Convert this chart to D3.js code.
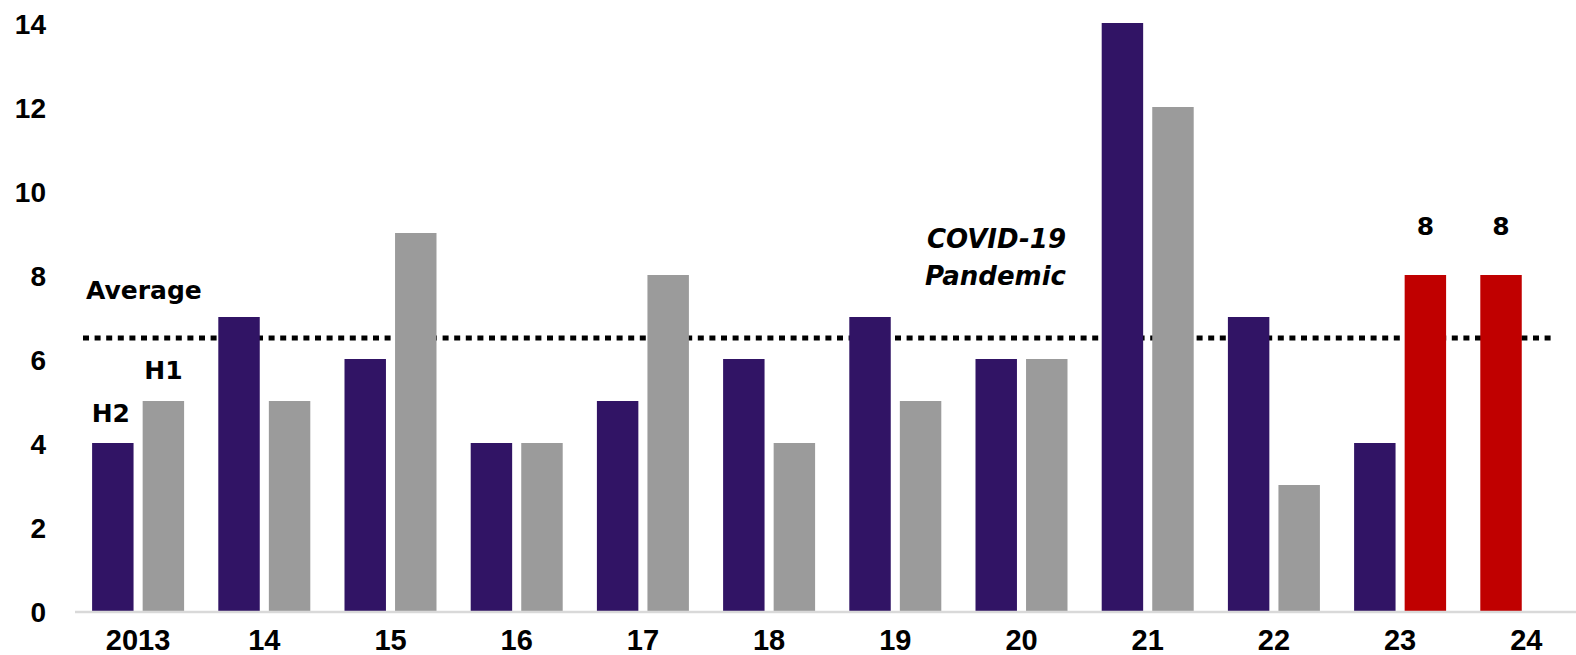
<!DOCTYPE html>
<html>
<head>
<meta charset="utf-8">
<script src="https://cdn.jsdelivr.net/npm/d3@7"></script>
<style>
  html, body { margin: 0; padding: 0; background: #fff; }
  svg { display: block; }
</style>
</head>
<body>
<svg id="chart" width="1576" height="655"></svg>
<script>
// ---- data ----
const years = ["2013", "14", "15", "16", "17", "18", "19", "20", "21", "22", "23", "24"];
const seriesNames = ["H2", "H1"];
const h2Values = [4, 7, 6, 4, 5, 6, 7, 6, 14, 7, 4, 8];
const h1Values = [5, 5, 9, 4, 8, 4, 5, 6, 12, 3, 8, null];
const highlighted = [["23", "H1"], ["24", "H2"]];
const yTicks = [0, 2, 4, 6, 8, 10, 12, 14];
const averageValue = 6.5;
const covidLabel = ["COVID-19", "Pandemic"];

// ---- styles ----
const colors = { H2: "#311465", H1: "#9b9b9b", highlight: "#c00000" };
const annFont = "'DejaVu Sans', Verdana, sans-serif";
const axisFont = "'Liberation Sans', Arial, sans-serif";

const svg = d3.select("#chart");

const x = d3.scaleBand().domain(years).range([75, 75 + 12 * 126.2])
  .paddingInner(0.271).paddingOuter(0.1355);
const xs = d3.scaleBand().domain(seriesNames).range([0, x.bandwidth()])
  .paddingInner(0.18).paddingOuter(0);
const y = d3.scaleLinear().domain([0, 14]).range([611, 23]);

const bars = [];
years.forEach((yr, i) => {
  [["H2", h2Values[i]], ["H1", h1Values[i]]].forEach(([s, v]) => {
    if (v == null) return;
    const hi = highlighted.some(h => h[0] === yr && h[1] === s);
    bars.push({ year: yr, series: s, value: v, hi });
  });
});

// average dotted line (behind bars)
svg.append("line")
  .attr("x1", 83).attr("x2", 1553)
  .attr("y1", y(averageValue)).attr("y2", y(averageValue))
  .attr("stroke", "#000").attr("stroke-width", 5)
  .attr("stroke-dasharray", "6 5.6");

// bars
svg.append("g").selectAll("rect").data(bars).join("rect")
  .attr("x", d => x(d.year) + xs(d.series))
  .attr("width", xs.bandwidth())
  .attr("y", d => y(d.value))
  .attr("height", d => y(0) - y(d.value))
  .attr("fill", d => d.hi ? colors.highlight : colors[d.series]);

// baseline
svg.append("line")
  .attr("x1", 75).attr("x2", 1576)
  .attr("y1", y(0) + 1).attr("y2", y(0) + 1)
  .attr("stroke", "#d9d9d9").attr("stroke-width", 2.5);

// y axis labels
const yAxis = d3.axisLeft(y).tickValues(yTicks).tickSize(0).tickPadding(0);
const yg = svg.append("g").attr("transform", "translate(46,0)").call(yAxis);
yg.select(".domain").remove();
yg.selectAll("text")
  .attr("font-family", axisFont).attr("font-weight", "bold")
  .attr("font-size", 28).attr("fill", "#000").attr("dy", "0.36em");

// x axis labels
const xAxis = d3.axisBottom(x).tickSize(0).tickPadding(0);
const xg = svg.append("g").attr("transform", "translate(0,629)").call(xAxis);
xg.select(".domain").remove();
xg.selectAll("text")
  .attr("font-family", axisFont).attr("font-weight", "bold")
  .attr("font-size", 29).attr("fill", "#000").attr("dy", "0.72em");

// value labels on highlighted bars
svg.append("g").selectAll("text").data(bars.filter(d => d.hi)).join("text")
  .attr("x", d => x(d.year) + xs(d.series) + xs.bandwidth() / 2)
  .attr("y", d => y(d.value) - 40)
  .attr("text-anchor", "middle")
  .attr("font-family", annFont).attr("font-weight", "bold")
  .attr("font-size", 25).attr("fill", "#000")
  .text(d => d.value);

// series labels above first group
const firstYear = years[0];
svg.append("text")
  .attr("x", x(firstYear) + xs("H2") + xs.bandwidth() / 2 - 2)
  .attr("y", y(h2Values[0]) - 21)
  .attr("text-anchor", "middle")
  .attr("font-family", annFont).attr("font-weight", "bold").attr("font-size", 25)
  .text("H2");
svg.append("text")
  .attr("x", x(firstYear) + xs("H1") + xs.bandwidth() / 2)
  .attr("y", y(h1Values[0]) - 22)
  .attr("text-anchor", "middle")
  .attr("font-family", annFont).attr("font-weight", "bold").attr("font-size", 25)
  .text("H1");

// average label
svg.append("text")
  .attr("x", 86).attr("y", y(averageValue) - 39)
  .attr("font-family", annFont).attr("font-weight", "bold").attr("font-size", 25)
  .text("Average");

// COVID annotation
svg.append("g").selectAll("text").data(covidLabel).join("text")
  .attr("x", 1066)
  .attr("y", (d, i) => 248 + i * 37)
  .attr("text-anchor", "end")
  .attr("font-family", annFont).attr("font-weight", "bold")
  .attr("font-style", "italic").attr("font-size", 26)
  .text(d => d);
</script>
</body>
</html>
